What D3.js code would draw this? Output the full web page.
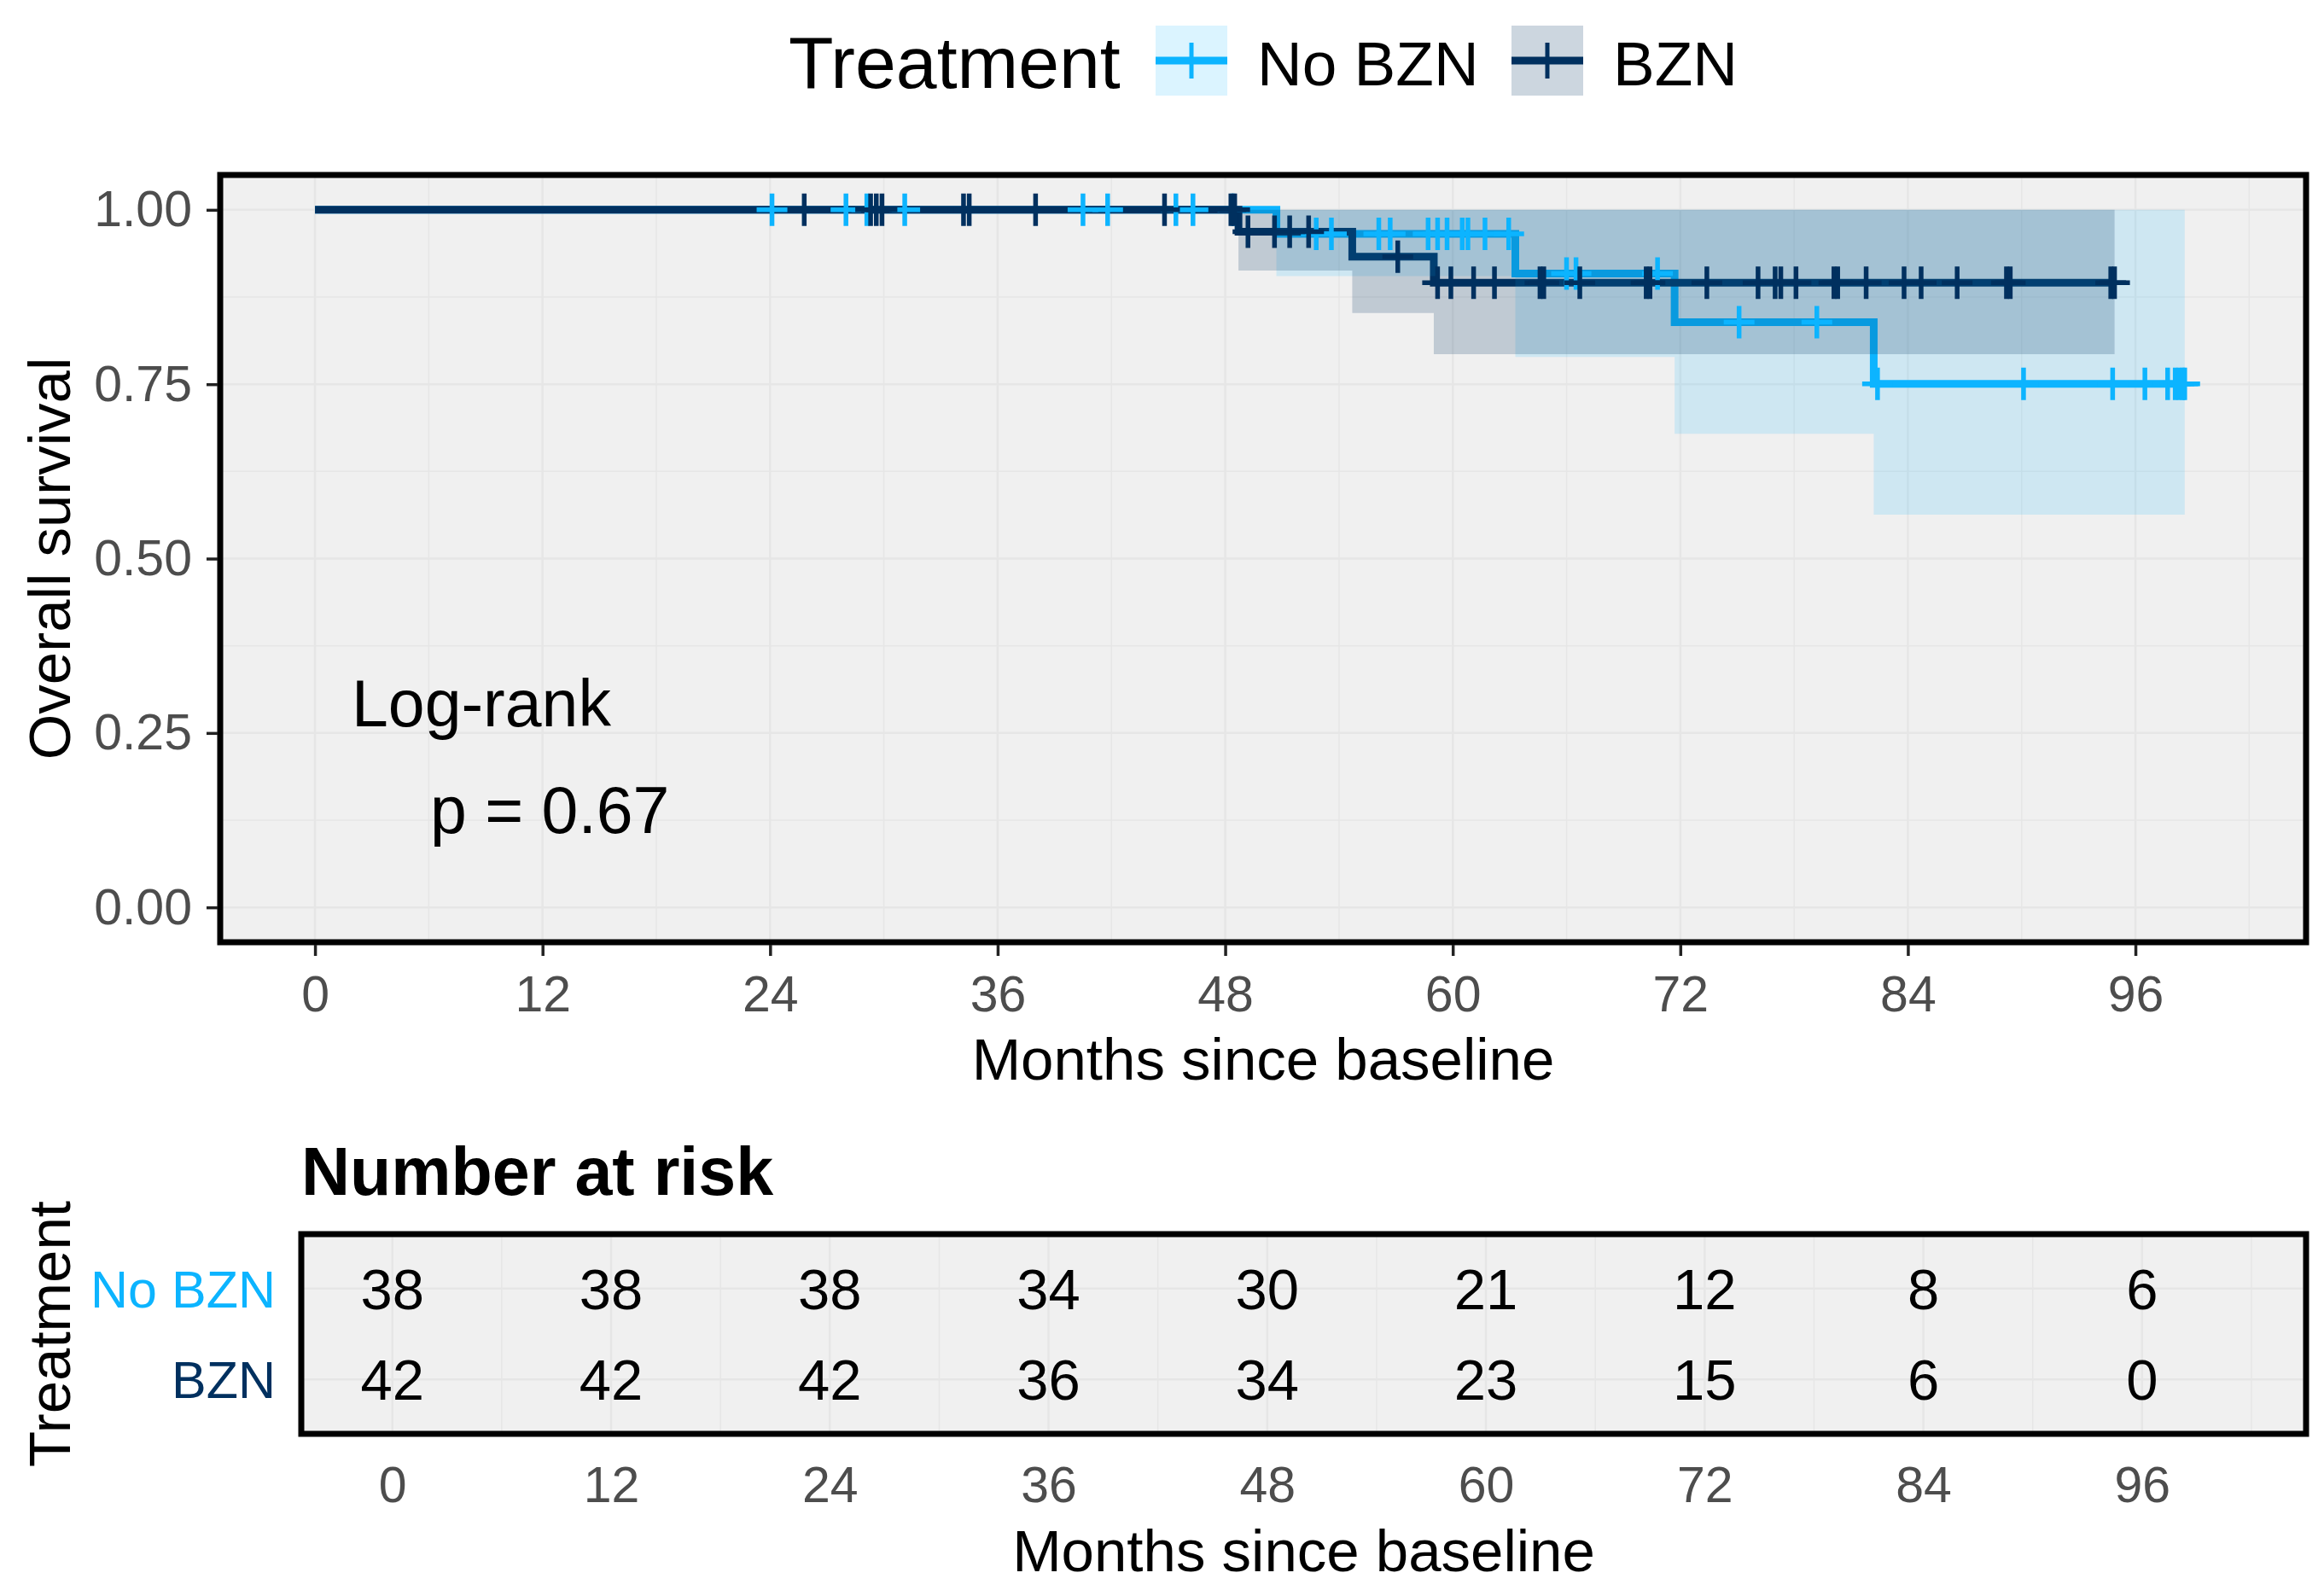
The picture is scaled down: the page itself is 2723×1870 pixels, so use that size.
<!DOCTYPE html>
<html>
<head>
<meta charset="utf-8">
<script src="https://cdn.jsdelivr.net/npm/d3@7"></script>
<style>
  body { margin: 0; background: #fff; }
  text { font-family: "Liberation Sans", Arial, sans-serif; }
</style>
</head>
<body>
<script>
// survival steps (months, survival, lower CI, upper CI)
var noBznTime  = [0, 50.7, 63.3, 71.7, 82.2, 98.6];
var noBznSurv  = [1, 0.9655, 0.9087, 0.8388, 0.7505, 0.7505];
var noBznLower = [1, 0.905, 0.789, 0.679, 0.563, 0.563];
var noBznUpper = [1, 1, 1, 1, 1, 1];

var bznTime  = [0, 48.7, 54.7, 59.0, 94.9];
var bznSurv  = [1, 0.96875, 0.9329, 0.8956, 0.8956];
var bznLower = [1, 0.913, 0.852, 0.793, 0.793];
var bznUpper = [1, 1, 1, 1, 1];

// censoring times
var noBznCensor = [24.1, 28.0, 29.1, 31.1, 40.5, 41.8, 45.4, 46.3, 48.4, 52.8, 53.6, 56.1, 56.7, 58.7,
  59.2, 59.7, 60.5, 60.8, 61.7, 62.95, 66.0, 66.5, 70.8, 75.1, 79.2, 82.4, 90.1, 94.8, 96.5, 97.7,
  98.1, 98.3, 98.5, 98.6];
var bznCensor = [25.8, 29.3, 29.6, 29.9, 34.2, 34.5, 38.0, 44.8, 48.3, 48.5, 49.2, 50.6, 51.4, 52.4,
  57.1, 59.2, 59.9, 61.1, 62.2, 64.6, 64.8, 66.7, 70.2, 70.4, 73.4, 76.1, 77.0, 77.3, 78.1, 80.1,
  80.3, 81.8, 83.8, 84.7, 86.6, 89.2, 89.4, 94.7, 94.9];

// number at risk table
var riskTimes = [0, 12, 24, 36, 48, 60, 72, 84, 96];
var riskNoBzn = [38, 38, 38, 34, 30, 21, 12, 8, 6];
var riskBzn   = [42, 42, 42, 36, 34, 23, 15, 6, 0];

var groups = ['No BZN', 'BZN'];
var xTicks = [0, 12, 24, 36, 48, 60, 72, 84, 96];
var yTicks = [0, 0.25, 0.5, 0.75, 1];

var colNo = '#0cb4ff', colBzn = '#00305f';

var svg = d3.select('body').append('svg')
    .attr('width', 2723)
    .attr('height', 1870);

// ---------- main plot ----------
var pL = 258, pR = 2702, pT = 205, pB = 1104;
var x = d3.scaleLinear().domain([-5, 105]).range([pL, pR]);
var y = d3.scaleLinear().domain([-0.05, 1.05]).range([pB, pT]);

svg.append('rect')
    .attr('x', pL).attr('y', pT)
    .attr('width', pR - pL).attr('height', pB - pT)
    .attr('fill', '#f0f0f0');

svg.append('clipPath').attr('id', 'clip')
  .append('rect')
    .attr('x', pL).attr('y', pT)
    .attr('width', pR - pL).attr('height', pB - pT);

var grid = svg.append('g').attr('clip-path', 'url(#clip)');
grid.selectAll('.vg').data(d3.range(0, 103, 6)).enter().append('line')
    .attr('x1', d => x(d)).attr('x2', d => x(d))
    .attr('y1', pT).attr('y2', pB)
    .attr('stroke', '#e6e6e6')
    .attr('stroke-width', d => d % 12 == 0 ? 2.5 : 1.5);
grid.selectAll('.hg').data(d3.range(0, 1.01, 0.125)).enter().append('line')
    .attr('y1', d => y(d)).attr('y2', d => y(d))
    .attr('x1', pL).attr('x2', pR)
    .attr('stroke', '#e6e6e6')
    .attr('stroke-width', (d, i) => i % 2 == 0 ? 2.5 : 1.5);

function rows(t, s, lo, hi) {
  return t.map(function(d, i) { return {t: d, s: s[i], lo: lo[i], hi: hi[i]}; });
}
var noRows = rows(noBznTime, noBznSurv, noBznLower, noBznUpper);
var bzRows = rows(bznTime, bznSurv, bznLower, bznUpper);

var band = d3.area()
    .x(d => x(d.t)).y0(d => y(d.lo)).y1(d => y(d.hi))
    .curve(d3.curveStepAfter);
var step = d3.line()
    .x(d => x(d.t)).y(d => y(d.s))
    .curve(d3.curveStepAfter);

var plot = svg.append('g').attr('clip-path', 'url(#clip)');
// steps first, then the ribbons over them, then censor marks (survminer order)
plot.append('path').attr('d', step(noRows))
    .attr('fill', 'none').attr('stroke', colNo).attr('stroke-width', 9);
plot.append('path').attr('d', step(bzRows))
    .attr('fill', 'none').attr('stroke', colBzn).attr('stroke-width', 9);

plot.append('path').attr('d', band(noRows))
    .attr('fill', colNo).attr('fill-opacity', 0.15);
plot.append('path').attr('d', band(bzRows))
    .attr('fill', colBzn).attr('fill-opacity', 0.2);

function survAt(times, surv, t) {
  var i = d3.bisectRight(times, t) - 1;
  return surv[Math.max(i, 0)];
}
function plus(cx, cy) {
  return 'M' + (cx - 18) + ',' + cy + 'h36M' + cx + ',' + (cy - 19) + 'v38';
}
plot.selectAll('.cno').data(noBznCensor).enter().append('path')
    .attr('d', d => plus(x(d), y(survAt(noBznTime, noBznSurv, d))))
    .attr('stroke', colNo).attr('stroke-width', 5.5).attr('fill', 'none');
plot.selectAll('.cbz').data(bznCensor).enter().append('path')
    .attr('d', d => plus(x(d), y(survAt(bznTime, bznSurv, d))))
    .attr('stroke', colBzn).attr('stroke-width', 5.5).attr('fill', 'none');

svg.append('rect')
    .attr('x', pL).attr('y', pT)
    .attr('width', pR - pL).attr('height', pB - pT)
    .attr('fill', 'none').attr('stroke', '#000').attr('stroke-width', 7);

// axes
var xAxis = svg.append('g').attr('transform', 'translate(0,' + (pB + 3) + ')')
    .call(d3.axisBottom(x).tickValues(xTicks).tickSize(13).tickPadding(23));
var yAxis = svg.append('g').attr('transform', 'translate(' + (pL - 3) + ',0)')
    .call(d3.axisLeft(y).tickValues(yTicks).tickFormat(d3.format('.2f')).tickSize(13).tickPadding(17));
[xAxis, yAxis].forEach(function(a) {
  a.select('.domain').remove();
  a.selectAll('line').attr('stroke', '#222').attr('stroke-width', 3.5);
  a.selectAll('text').attr('font-size', 59).attr('fill', '#4d4d4d')
      .attr('font-family', '"Liberation Sans", Arial, sans-serif');
});

svg.append('text')
    .attr('x', (pL + pR) / 2).attr('y', 1265)
    .attr('text-anchor', 'middle').attr('font-size', 69)
    .text('Months since baseline');
svg.append('text')
    .attr('transform', 'translate(82,' + (pT + pB) / 2 + ') rotate(-90)')
    .attr('text-anchor', 'middle').attr('font-size', 69)
    .text('Overall survival');

svg.append('text').attr('x', 412).attr('y', 851).attr('font-size', 77).text('Log-rank');
svg.append('text').attr('x', 504).attr('y', 976).attr('font-size', 77).text('p = 0.67');

// ---------- legend ----------
var leg = svg.append('g');
leg.append('text').attr('x', 924).attr('y', 103).attr('font-size', 86).text('Treatment');
var keys = [{x: 1354, c: colNo, a: 0.15, label: 'No BZN'}, {x: 1771, c: colBzn, a: 0.2, label: 'BZN'}];
keys.forEach(function(k) {
  leg.append('rect').attr('x', k.x).attr('y', 30).attr('width', 84).attr('height', 82)
      .attr('fill', k.c).attr('fill-opacity', k.a);
  leg.append('line').attr('x1', k.x).attr('x2', k.x + 84).attr('y1', 71).attr('y2', 71)
      .attr('stroke', k.c).attr('stroke-width', 9);
  leg.append('line').attr('x1', k.x + 42).attr('x2', k.x + 42).attr('y1', 50).attr('y2', 92)
      .attr('stroke', k.c).attr('stroke-width', 5);
  leg.append('text').attr('x', k.x + 119).attr('y', 100).attr('font-size', 73).text(k.label);
});

// ---------- risk table ----------
var tL = 353, tR = 2702, tT = 1446, tB = 1680;
var xt = d3.scaleLinear().domain([-5, 105]).range([tL, tR]);
var yt = d3.scaleLinear().domain([0.4, 2.6]).range([tB, tT]);

svg.append('text').attr('x', tL).attr('y', 1400)
    .attr('font-size', 79).attr('font-weight', 'bold').text('Number at risk');

svg.append('rect').attr('x', tL).attr('y', tT)
    .attr('width', tR - tL).attr('height', tB - tT).attr('fill', '#f0f0f0');
svg.selectAll('.tvg').data(d3.range(0, 103, 6)).enter().append('line')
    .attr('x1', d => xt(d)).attr('x2', d => xt(d))
    .attr('y1', tT).attr('y2', tB)
    .attr('stroke', '#e6e6e6').attr('stroke-width', d => d % 12 == 0 ? 2.5 : 1.5);
svg.selectAll('.thg').data([1, 2]).enter().append('line')
    .attr('y1', d => yt(d)).attr('y2', d => yt(d))
    .attr('x1', tL).attr('x2', tR)
    .attr('stroke', '#e6e6e6').attr('stroke-width', 2.5);

var tableRows = [{g: 'No BZN', pos: 2, vals: riskNoBzn, c: colNo}, {g: 'BZN', pos: 1, vals: riskBzn, c: colBzn}];
tableRows.forEach(function(r) {
  svg.selectAll(null).data(r.vals).enter().append('text')
      .attr('x', (d, i) => xt(riskTimes[i]))
      .attr('y', yt(r.pos)).attr('dy', '0.36em')
      .attr('text-anchor', 'middle').attr('font-size', 67)
      .text(d => d);
  svg.append('text').attr('x', 323).attr('y', yt(r.pos)).attr('dy', '0.36em')
      .attr('text-anchor', 'end').attr('font-size', 61).attr('fill', r.c)
      .text(r.g);
});

svg.append('rect').attr('x', tL).attr('y', tT)
    .attr('width', tR - tL).attr('height', tB - tT)
    .attr('fill', 'none').attr('stroke', '#000').attr('stroke-width', 7);

var tAxis = svg.append('g').attr('transform', 'translate(0,' + tB + ')')
    .call(d3.axisBottom(xt).tickValues(riskTimes).tickSize(0).tickPadding(38));
tAxis.select('.domain').remove();
tAxis.selectAll('text').attr('font-size', 59).attr('fill', '#4d4d4d')
    .attr('font-family', '"Liberation Sans", Arial, sans-serif');

svg.append('text')
    .attr('x', (tL + tR) / 2).attr('y', 1841)
    .attr('text-anchor', 'middle').attr('font-size', 69)
    .text('Months since baseline');
svg.append('text')
    .attr('transform', 'translate(82,' + (tT + tB) / 2 + ') rotate(-90)')
    .attr('text-anchor', 'middle').attr('font-size', 69)
    .text('Treatment');
</script>
</body>
</html>
